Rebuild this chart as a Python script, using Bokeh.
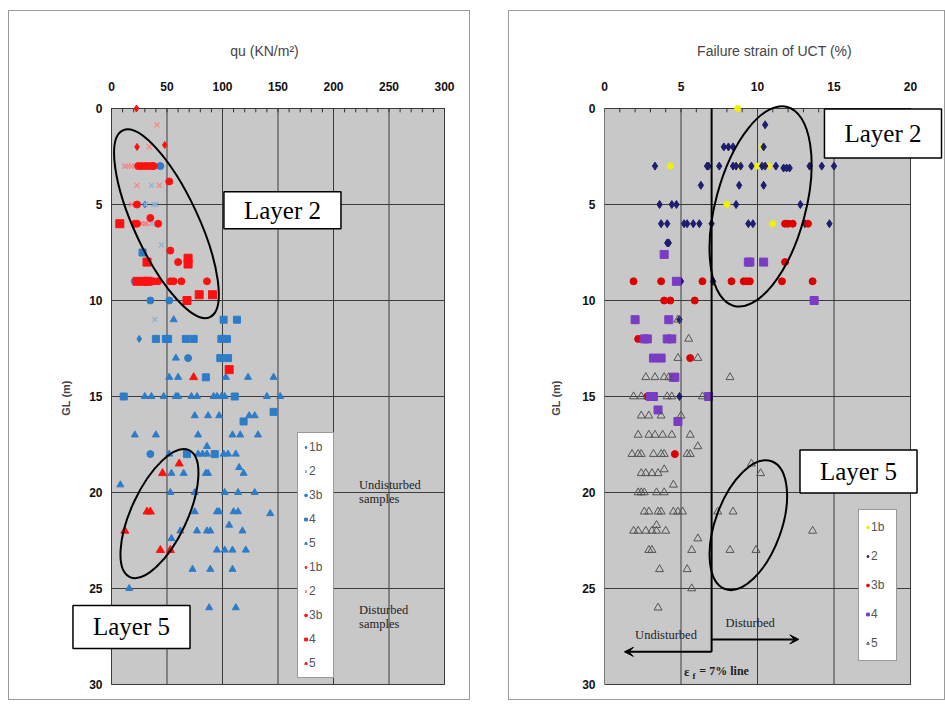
import math
from bokeh.plotting import figure
from bokeh.layouts import row
from bokeh.models import Range1d, FixedTicker, Label, Arrow, VeeHead, Legend
from bokeh.embed import file_html
from bokeh.resources import INLINE

# ---------------- Left chart data: qu (kN/m2) vs GL (m) ----------------
u1b_qu = [30, 25]
u1b_gl = [5, 12]
u2_qu = [12, 36, 31, 38, 40, 36, 45, 39]
u2_gl = [3, 4, 5, 5, 5, 6, 7.1, 11]
u3b_qu = [44, 35, 52, 69, 35, 21]
u3b_gl = [3, 10, 10, 13, 18, 9]
u4_qu = [28, 101, 113, 40, 49, 51, 67, 74, 99, 104, 98, 105, 85, 11, 111, 146, 119, 68, 93]
u4_gl = [7.5, 11, 11, 12, 12, 12, 12, 12, 12, 12, 13, 13, 14, 15, 15, 15.8, 16.3, 18, 18]
u5_qu = [56, 58, 52, 60, 103, 123, 146, 30, 36, 47, 58, 60, 72, 77, 92, 95, 99, 102, 140, 152,
         75, 87, 97, 124, 129, 21, 40, 78, 109, 116, 132, 86, 52, 78, 82, 86, 101, 105, 112, 115,
         54, 65, 85, 87, 119, 8, 53, 75, 102, 114, 129, 75, 95, 97, 110, 114, 143, 62, 77, 86,
         89, 106, 118, 54, 95, 102, 109, 121, 73, 89, 109, 16, 88, 112]
u5_gl = [11, 13, 14, 14, 14, 14, 14, 15, 15, 15, 15, 15, 15, 15, 15, 15, 15, 15, 15, 15,
         16, 16, 16, 16, 16, 17, 17, 17, 17, 17, 17, 17.6, 18, 18, 18, 18, 18, 18, 18, 18.7,
         19, 19, 19, 19, 19, 19.6, 20, 20, 20, 20, 20, 21, 21, 21, 21, 21, 21.1, 22, 22, 22,
         22, 21.7, 22, 22.4, 23, 23, 23, 23, 24, 24, 24, 25, 26, 26]
d1b_qu = [22.5, 48, 23]
d1b_gl = [0, 1.9, 2]
d2_qu = [41, 34, 12, 15, 18, 21, 23, 43, 18, 27, 30, 32]
d2_gl = [0.85, 2, 3, 3, 3, 3, 4, 4, 5, 6, 6, 6]
d3b_qu = [24, 27, 30, 33, 36, 38, 52, 23, 35, 21, 23, 42, 53, 60, 38, 42, 53, 56, 63, 86]
d3b_gl = [3, 3, 3, 3, 3, 3, 3.8, 5, 5.7, 6, 6, 6, 7.4, 8, 9, 9, 9, 9, 9, 9]
d4_qu = [7.5, 32, 69, 69, 23, 30, 33, 79, 91, 68, 106]
d4_gl = [6, 8, 7.8, 8.1, 9, 9, 9, 9.7, 9.7, 10, 13.6]
d5_qu = [74, 61, 46, 32, 35, 12, 44, 53]
d5_gl = [14, 18.5, 19, 21, 21, 22, 23, 23]

# ---------------- Right chart data: failure strain (%) vs GL (m) ----------------
s1b_x = [8.7, 10.3, 4.3, 8.8, 10.0, 10.7, 8.0, 11.0]
s1b_gl = [0, 2, 3, 3, 3, 3, 5, 6]
s2_x = [10.5, 7.8, 8.1, 8.4, 10.4, 3.3, 6.7, 6.8, 7.5, 8.4, 8.6, 8.9, 9.6, 10.3, 10.5, 11.2,
        11.7, 11.9, 12.1, 13.4, 14.2, 15.0, 6.3, 8.8, 10.4, 3.6, 4.4, 4.7, 8.6, 12.8,
        3.7, 4.1, 5.2, 5.4, 5.8, 6.2, 7.0, 9.4, 9.7, 13.1, 14.7, 4.1, 4.2, 5.0, 7.1, 4.9, 4.9]
s2_gl = [0.85, 2, 2, 2, 2, 3, 3, 3, 3, 3, 3, 3, 3, 3, 3, 3,
         3.1, 3.1, 3.1, 3, 3, 3, 4, 4, 4, 5, 5, 5, 5, 5,
         6, 6, 6, 6, 6, 6, 6, 6, 6, 6, 6, 7, 7, 9, 9, 11, 15]
s3b_x = [11.8, 12.0, 12.3, 13.3, 11.8, 1.9, 3.7, 6.4, 8.3, 9.1, 9.3, 9.5, 11.6, 13.6,
         3.9, 4.3, 5.9, 2.2, 5.6, 2.8, 4.6]
s3b_gl = [6, 6, 6, 6, 8, 9, 9, 9, 9, 9, 9, 9, 9, 9, 10, 10, 10, 12, 13, 15, 18]
s4_x = [3.9, 9.4, 9.5, 10.4, 4.7, 13.7, 2.0, 4.2, 2.6, 2.8, 4.1, 4.4, 3.2, 3.7, 4.5, 4.6,
        3.0, 3.2, 6.8, 3.5, 4.8]
s4_gl = [7.6, 8, 8, 8, 9, 10, 11, 11, 12, 12, 12, 12, 13, 13, 14, 14, 15, 15, 15, 15.7, 16.3]
s5_x = [4.8, 5.5, 4.8, 6.1, 2.7, 3.3, 3.9, 4.2, 8.2, 1.9, 2.4, 4.1, 4.4, 6.4, 2.4, 2.9, 3.7, 5.0,
        2.2, 2.9, 3.3, 3.8, 4.4, 5.6, 6.1, 1.8, 2.2, 2.4, 3.2, 3.7, 3.9, 5.4, 5.6, 9.6,
        2.4, 2.7, 3.1, 3.5, 3.9, 10.2, 4.5, 2.2, 2.4, 2.6, 3.4, 3.9, 2.6, 2.9, 3.5, 3.7,
        4.5, 4.8, 5.1, 7.4, 8.4, 1.9, 2.2, 2.7, 3.1, 3.4, 3.4, 4.0, 13.6, 6.1, 2.9, 3.1,
        5.7, 8.2, 9.9, 3.6, 5.4, 5.7, 3.5]
s5_gl = [11, 12, 13, 13, 14, 14, 14, 14, 14, 15, 15, 15, 15, 15, 16, 16, 16, 16,
         17, 17, 17, 17, 17, 17, 17.6, 18, 18, 18, 18, 18, 18, 18, 18, 18.5,
         19, 19, 19, 19, 18.8, 19, 19.6, 20, 20, 20, 20, 20, 21, 21, 21, 21,
         21, 21, 21, 21, 21, 22, 22, 22, 22, 22, 21.7, 22, 22, 22.4, 23, 23,
         23, 23, 23, 24, 24, 25, 26]

qu_ticks = [0, 50, 100, 150, 200, 250, 300]
strain_ticks = [0, 5, 10, 15, 20]
gl_ticks = [0, 5, 10, 15, 20, 25, 30]

FRAME_BG = "#c8c8c8"
GRID = "#3c3c3c"
SANS = "Liberation Sans"
SERIF = "Liberation Serif"
Y_RANGE = (30.625, -0.469)   # a little beyond 0..30 so the end tick labels are not clipped


def base_fig(width, bl, br, xr, xticks, xlabel, fixed_y):
    p = figure(width=width, height=690, output_backend="svg", toolbar_location=None,
               x_range=Range1d(*xr), y_range=Range1d(*Y_RANGE),
               x_axis_location="above", min_border_left=bl, min_border_right=br,
               min_border_top=88, min_border_bottom=5)
    p.background_fill_color = "white"
    p.border_fill_color = "white"
    p.outline_line_color = None
    step = (xticks[1] - xticks[0]) / 5
    minor = [xticks[0] + i * step for i in range(5 * (len(xticks) - 1) + 1)]
    p.xaxis.ticker = FixedTicker(ticks=xticks)
    p.yaxis.ticker = FixedTicker(ticks=gl_ticks)
    for ax in (p.xaxis, p.yaxis):
        ax.axis_line_color = None
        ax.major_tick_out = 0
        ax.major_tick_in = 0
        ax.minor_tick_out = 0
        ax.minor_tick_line_color = None
        ax.major_label_text_font = SANS
        ax.major_label_text_font_style = "bold"
        ax.major_label_text_font_size = "12px"
        ax.major_label_text_color = "#111"
    p.xaxis.major_label_standoff = 9
    p.yaxis.major_label_standoff = 9
    p.xaxis.axis_label = xlabel
    p.xaxis.axis_label_text_font = SANS
    p.xaxis.axis_label_text_font_style = "normal"
    p.xaxis.axis_label_text_font_size = "14px"
    p.xaxis.axis_label_standoff = 20
    p.yaxis.axis_label = "GL (m)"
    p.yaxis.axis_label_text_font = SANS
    p.yaxis.axis_label_text_font_style = "bold"
    p.yaxis.axis_label_text_font_size = "11px"
    p.yaxis.axis_label_standoff = 17
    # plot area (grey), grid lines at the tick values and minor ticks on the top edge
    p.quad(left=[xticks[0]], right=[xticks[-1]], top=[gl_ticks[0]], bottom=[gl_ticks[-1]],
           fill_color=FRAME_BG, line_color="#8a8a8a", line_width=1, level="image")
    p.xgrid.grid_line_color = None
    p.ygrid.grid_line_color = None
    n = len(gl_ticks)
    p.segment(x0=[xticks[0]] * n, y0=gl_ticks, x1=[xticks[-1]] * n, y1=gl_ticks,
              line_color=GRID, line_width=1)
    m = len(xticks)
    p.segment(x0=xticks, y0=[gl_ticks[0]] * m, x1=xticks, y1=[gl_ticks[-1]] * m,
              line_color=GRID, line_width=1)
    k = len(minor)
    p.segment(x0=minor, y0=[gl_ticks[0]] * k, x1=minor, y1=[gl_ticks[0] + 0.2] * k,
              line_color="#333", line_width=1)
    if fixed_y:
        # y axis pinned at the left edge of the plot area
        p.yaxis.fixed_location = xticks[0]
        p.yaxis.axis_label_standoff = 14
    p.styles = {"border": "1px solid #9a9a9a"}
    return p


def layer_label(p, x, y, text, pad_x, pad_y):
    p.add_layout(Label(x=x, y=y, text=text, text_font=SERIF, text_font_size="25px",
                       text_align="center", text_baseline="middle", text_color="black",
                       background_fill_color="white", border_line_color="black",
                       border_line_width=1.5,
                       padding=dict(left=pad_x, right=pad_x, top=pad_y, bottom=pad_y)))


def small_label(p, x, y, text, size="12.5px", style="normal"):
    p.add_layout(Label(x=x, y=y, text=text, text_font=SERIF, text_font_size=size,
                       text_font_style=style, text_baseline="middle", text_color="#222"))


# ---------------- Left figure ----------------
# the frame reaches left of qu = 0 (room for the "Layer 5" box); y axis pinned at qu = 0
p1 = base_fig(462, 50, 2, (-46.85, 322.52), qu_ticks, "qu (KN/m²)", True)
BLUE = "#2d7cc8"
BLUE_X = "#8eb0d6"
RED = "#ff1010"
PINK = "#ff8080"
r = []
r.append(("1b", [p1.scatter(u1b_qu, u1b_gl, marker="diamond", size=7, color=BLUE)]))
r.append(("2", [p1.scatter(u2_qu, u2_gl, marker="x", size=7, line_color=BLUE_X, line_width=1.2)]))
r.append(("3b", [p1.scatter(u3b_qu, u3b_gl, marker="circle", size=7, color=BLUE)]))
r.append(("4", [p1.scatter(u4_qu, u4_gl, marker="square", size=7, color=BLUE)]))
r.append(("5", [p1.scatter(u5_qu, u5_gl, marker="triangle", size=7, color=BLUE)]))
r.append(("1b", [p1.scatter(d1b_qu, d1b_gl, marker="diamond", size=7, color=RED)]))
r.append(("2", [p1.scatter(d2_qu, d2_gl, marker="x", size=7, line_color=PINK, line_width=1.2)]))
r.append(("3b", [p1.scatter(d3b_qu, d3b_gl, marker="circle", size=7, color=RED)]))
r.append(("4", [p1.scatter(d4_qu, d4_gl, marker="square", size=8, color=RED)]))
r.append(("5", [p1.scatter(d5_qu, d5_gl, marker="triangle", size=8, color=RED)]))

leg1 = Legend(items=r, location=(238, 18), orientation="vertical",
              glyph_width=7, glyph_height=8, label_standoff=0, padding=4, spacing=4,
              label_height=20, label_text_font=SANS, label_text_font_size="12px",
              label_text_color="#555", border_line_color="#333", background_fill_color="white",
              background_fill_alpha=1, margin=0)
p1.add_layout(leg1, "center")

p1.ellipse(x=[49.5], y=[6.0], width=[64], height=[206], angle=[math.radians(25)],
           width_units="screen", height_units="screen", fill_color=None,
           line_color="black", line_width=2)
p1.ellipse(x=[43.2], y=[21.1], width=[56], height=[140], angle=[math.radians(-25)],
           width_units="screen", height_units="screen", fill_color=None,
           line_color="black", line_width=2)
layer_label(p1, 154, 5.3, "Layer 2", 20, 5)
layer_label(p1, 18, 27.0, "Layer 5", 20, 8)
small_label(p1, 223, 19.6, "Undisturbed")
small_label(p1, 223, 20.35, "samples")
small_label(p1, 223, 26.1, "Disturbed")
small_label(p1, 223, 26.85, "samples")

# ---------------- Right figure ----------------
# frame extends past strain = 20 so that the "Layer 2" box can overhang the plot area
p2 = base_fig(437, 95, 2, (0, 22.22), strain_ticks, "Failure strain of UCT (%)", False)
YEL = "#f2f200"
NAVY = "#1e1e6e"
RED2 = "#dd0000"
PURP = "#7b3cc4"
r2 = []
r2.append(("1b", [p2.scatter(s1b_x, s1b_gl, marker="circle", size=6, color=YEL)]))
r2.append(("2", [p2.scatter(s2_x, s2_gl, marker="diamond", size=8, color=NAVY)]))
r2.append(("3b", [p2.scatter(s3b_x, s3b_gl, marker="circle", size=7, color=RED2)]))
r2.append(("4", [p2.scatter(s4_x, s4_gl, marker="square", size=8, color=PURP)]))
r2.append(("5", [p2.scatter(s5_x, s5_gl, marker="triangle", size=8, fill_color=None,
                            line_color="#555", line_width=1)]))
leg2 = Legend(items=r2, location=(254, 35), orientation="vertical",
              glyph_width=7, glyph_height=8, label_standoff=0, padding=5, spacing=5,
              label_height=24, label_text_font=SANS, label_text_font_size="12px",
              label_text_color="#555", border_line_color="#333", background_fill_color="white",
              background_fill_alpha=1, margin=0)
p2.add_layout(leg2, "center")

p2.segment(x0=[7], y0=[0], x1=[7], y1=[28.3], line_color="black", line_width=2)
p2.add_layout(Arrow(x_start=7, y_start=28.3, x_end=1.3, y_end=28.3, line_width=2,
                    end=VeeHead(size=9, line_color="black", fill_color="black")))
p2.add_layout(Arrow(x_start=7, y_start=27.65, x_end=12.7, y_end=27.65, line_width=2,
                    end=VeeHead(size=9, line_color="black", fill_color="black")))
small_label(p2, 2.0, 27.4, "Undisturbed")
small_label(p2, 7.9, 26.8, "Disturbed")
small_label(p2, 5.2, 29.3, "ε", "13px", "bold")
small_label(p2, 5.75, 29.55, "f", "9px", "bold")
small_label(p2, 6.2, 29.3, "= 7% line", "12px", "bold")

p2.ellipse(x=[10.2], y=[5.1], width=[90], height=[206], angle=[math.radians(-15)],
           width_units="screen", height_units="screen", fill_color=None,
           line_color="black", line_width=2)
p2.ellipse(x=[9.4], y=[21.7], width=[66], height=[136], angle=[math.radians(-20)],
           width_units="screen", height_units="screen", fill_color=None,
           line_color="black", line_width=2)
layer_label(p2, 18.2, 1.3, "Layer 2", 20, 11)
layer_label(p2, 16.6, 18.9, "Layer 5", 20, 8)

p1.margin = (10, 0, 0, 8)
p2.margin = (10, 0, 0, 38)
layout = row(p1, p2)
open("out.html", "w").write(file_html(layout, INLINE))
